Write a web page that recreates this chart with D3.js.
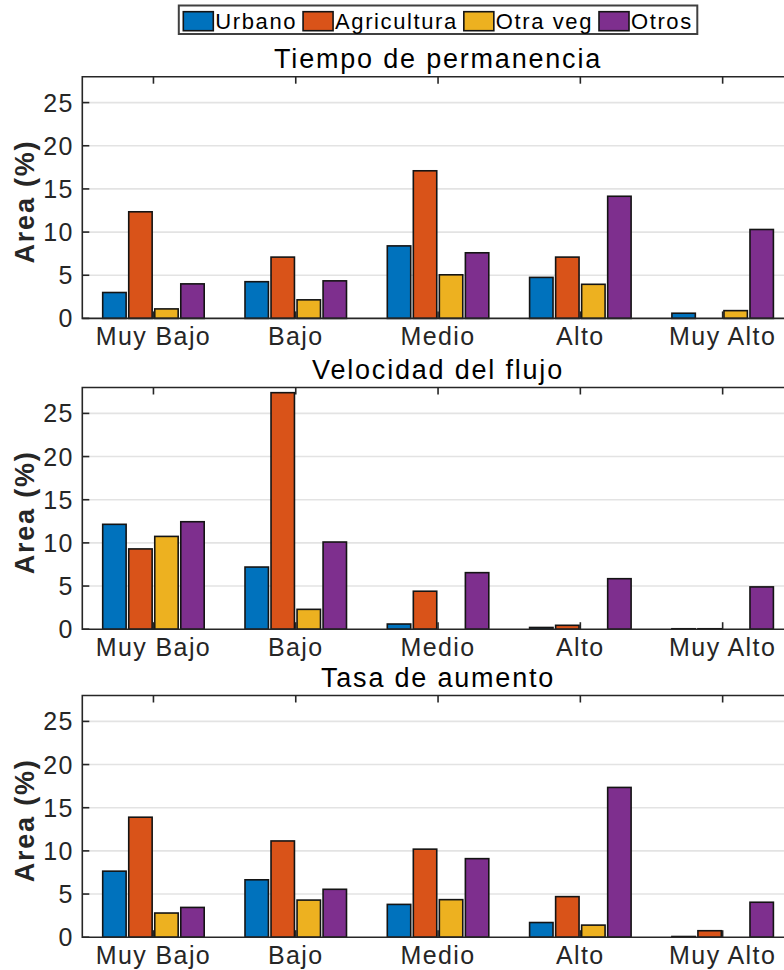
<!DOCTYPE html>
<html>

<head>
    <meta charset="utf-8">
    <title>Area por clase</title>
    <script src="https://d3js.org/d3.v7.min.js"></script>
    <style>
        body {
            margin: 0;
            background: #fff;
        }

        text {
            font-family: "Liberation Sans", Arial, Helvetica, sans-serif;
        }

        .tick-label {
            fill: #262626;
            font-size: 25px;
            letter-spacing: 1.4px;
        }

        .panel-title {
            fill: #000;
            font-size: 27px;
            letter-spacing: 1.8px;
        }

        .y-label {
            fill: #262626;
            font-size: 27px;
            font-weight: bold;
            letter-spacing: 1.8px;
        }

        .legend-label {
            fill: #000;
            font-size: 22px;
            letter-spacing: 1.6px;
        }
    </style>
</head>

<body>
    <div id="chart"></div>
    <script>
        // categories and series
        const categories = ["Muy Bajo", "Bajo", "Medio", "Alto", "Muy Alto"];
        const series = ["Urbano", "Agricultura", "Otra veg", "Otros"];
        const colors = ["#0072BD", "#D95319", "#EDB120", "#7E2F8E"];
        const yTicks = [0, 5, 10, 15, 20, 25];

        // Tiempo de permanencia
        const tiempoUrbano = [3.0, 4.25, 8.4, 4.75, 0.6];
        const tiempoAgricultura = [12.35, 7.1, 17.1, 7.1, 0];
        const tiempoOtraVeg = [1.1, 2.15, 5.05, 3.95, 0.9];
        const tiempoOtros = [4.0, 4.35, 7.6, 14.15, 10.3];

        // Velocidad del flujo
        const velocidadUrbano = [12.15, 7.2, 0.6, 0.2, 0.05];
        const velocidadAgricultura = [9.3, 27.4, 4.4, 0.45, 0.05];
        const velocidadOtraVeg = [10.75, 2.3, 0, 0, 0];
        const velocidadOtros = [12.45, 10.1, 6.55, 5.85, 4.9];

        // Tasa de aumento
        const tasaUrbano = [7.65, 6.65, 3.8, 1.7, 0.08];
        const tasaAgricultura = [13.9, 11.15, 10.2, 4.7, 0.75];
        const tasaOtraVeg = [2.8, 4.3, 4.35, 1.4, 0];
        const tasaOtros = [3.45, 5.55, 9.1, 17.35, 4.05];

        const panels = [
            { title: "Tiempo de permanencia", values: [tiempoUrbano, tiempoAgricultura, tiempoOtraVeg, tiempoOtros] },
            { title: "Velocidad del flujo", values: [velocidadUrbano, velocidadAgricultura, velocidadOtraVeg, velocidadOtros] },
            { title: "Tasa de aumento", values: [tasaUrbano, tasaAgricultura, tasaOtraVeg, tasaOtros] }
        ];

        const width = 784, height = 970;
        const plotLeft = 82.3, catStep = 142.3;
        const plotRight = plotLeft + catStep * categories.length; // runs past the window edge, as in the original
        const panelTops = [76.7, 387.5, 695.5];
        const panelH = 241.7;
        const tickLen = 7;

        const svg = d3.select("#chart")
            .append("svg")
            .attr("width", width)
            .attr("height", height);

        // group scale + inner scale for the 4 series
        const x0 = d3.scaleBand().domain(categories).range([plotLeft, plotRight]);
        const groupPad = 20.4;
        const x1 = d3.scaleBand().domain(series)
            .range([groupPad, x0.bandwidth() - groupPad])
            .paddingInner(0.1);
        const color = d3.scaleOrdinal().domain(series).range(colors);

        panels.forEach((p, pi) => {
            const top = panelTops[pi];
            const y = d3.scaleLinear().domain([0, 28]).range([top + panelH, top]);
            const g = svg.append("g");

            // grid
            g.selectAll("line.grid")
                .data(yTicks.filter(t => t > 0))
                .join("line")
                .attr("class", "grid")
                .attr("x1", plotLeft).attr("x2", width)
                .attr("y1", d => y(d)).attr("y2", d => y(d))
                .attr("stroke", "#e3e3e3")
                .attr("stroke-width", 1.6);

            // bars
            const rows = categories.map((c, ci) => ({ cat: c, vals: series.map((s, si) => ({ s, v: p.values[si][ci] })) }));
            g.selectAll("g.group")
                .data(rows)
                .join("g")
                .attr("transform", d => `translate(${x0(d.cat)},0)`)
                .selectAll("rect")
                .data(d => d.vals.filter(b => b.v > 0))
                .join("rect")
                .attr("x", d => x1(d.s))
                .attr("width", x1.bandwidth())
                .attr("y", d => y(d.v))
                .attr("height", d => y(0) - y(d.v))
                .attr("fill", d => color(d.s))
                .attr("stroke", "#141414")
                .attr("stroke-width", 1.6);

            // axes box (top, left, bottom)
            const axisColor = "#262626";
            g.append("path")
                .attr("d", `M${width},${top}H${plotLeft}V${y(0)}H${width}`)
                .attr("fill", "none")
                .attr("stroke", axisColor)
                .attr("stroke-width", 1.6);

            // x ticks at top and bottom
            const cx = c => x0(c) + x0.bandwidth() / 2;
            g.selectAll("line.xt-top")
                .data(categories)
                .join("line")
                .attr("x1", cx).attr("x2", cx)
                .attr("y1", top).attr("y2", top + tickLen)
                .attr("stroke", axisColor).attr("stroke-width", 1.6);
            g.selectAll("line.xt-bot")
                .data(categories)
                .join("line")
                .attr("x1", cx).attr("x2", cx)
                .attr("y1", y(0)).attr("y2", y(0) - tickLen)
                .attr("stroke", axisColor).attr("stroke-width", 1.6);

            // y ticks
            g.selectAll("line.yt")
                .data(yTicks)
                .join("line")
                .attr("x1", plotLeft).attr("x2", plotLeft + tickLen)
                .attr("y1", d => y(d)).attr("y2", d => y(d))
                .attr("stroke", axisColor).attr("stroke-width", 1.6);

            g.selectAll("text.ylab")
                .data(yTicks)
                .join("text")
                .attr("class", "tick-label")
                .attr("x", plotLeft - 8.5)
                .attr("y", d => y(d))
                .attr("dy", "0.36em")
                .attr("text-anchor", "end")
                .text(d => d);

            g.selectAll("text.xlab")
                .data(categories)
                .join("text")
                .attr("class", "tick-label")
                .attr("x", cx)
                .attr("y", y(0) + 27)
                .attr("text-anchor", "middle")
                .text(d => d);

            // title
            g.append("text")
                .attr("class", "panel-title")
                .attr("x", (plotLeft + plotRight) / 2)
                .attr("y", top - 8.5)
                .attr("text-anchor", "middle")
                .text(p.title);

            // y axis label
            g.append("text")
                .attr("class", "y-label")
                .attr("transform", `translate(34,${top + panelH / 2 + 4}) rotate(-90)`)
                .attr("text-anchor", "middle")
                .text("Area (%)");
        });

        // legend
        const legend = svg.append("g");
        const box = legend.append("rect")
            .attr("fill", "#fff")
            .attr("stroke", "#404040")
            .attr("stroke-width", 2);
        let lx = 0;
        series.forEach((s, i) => {
            legend.append("rect")
                .attr("x", lx).attr("y", 11.7)
                .attr("width", 30).attr("height", 19)
                .attr("fill", color(s))
                .attr("stroke", "#141414")
                .attr("stroke-width", 1.6);
            const t = legend.append("text")
                .attr("class", "legend-label")
                .attr("x", lx + 32)
                .attr("y", 28.5)
                .text(s);
            lx += 32 + t.node().getComputedTextLength() + 6;
        });
        const legendW = lx - 6;
        const legendX = (plotLeft + plotRight) / 2 - (legendW + 9) / 2;
        box.attr("x", -4.5).attr("y", 5.5).attr("width", legendW + 9).attr("height", 28.5);
        legend.attr("transform", `translate(${legendX + 4.5},0)`);
    </script>

</body>

</html>
